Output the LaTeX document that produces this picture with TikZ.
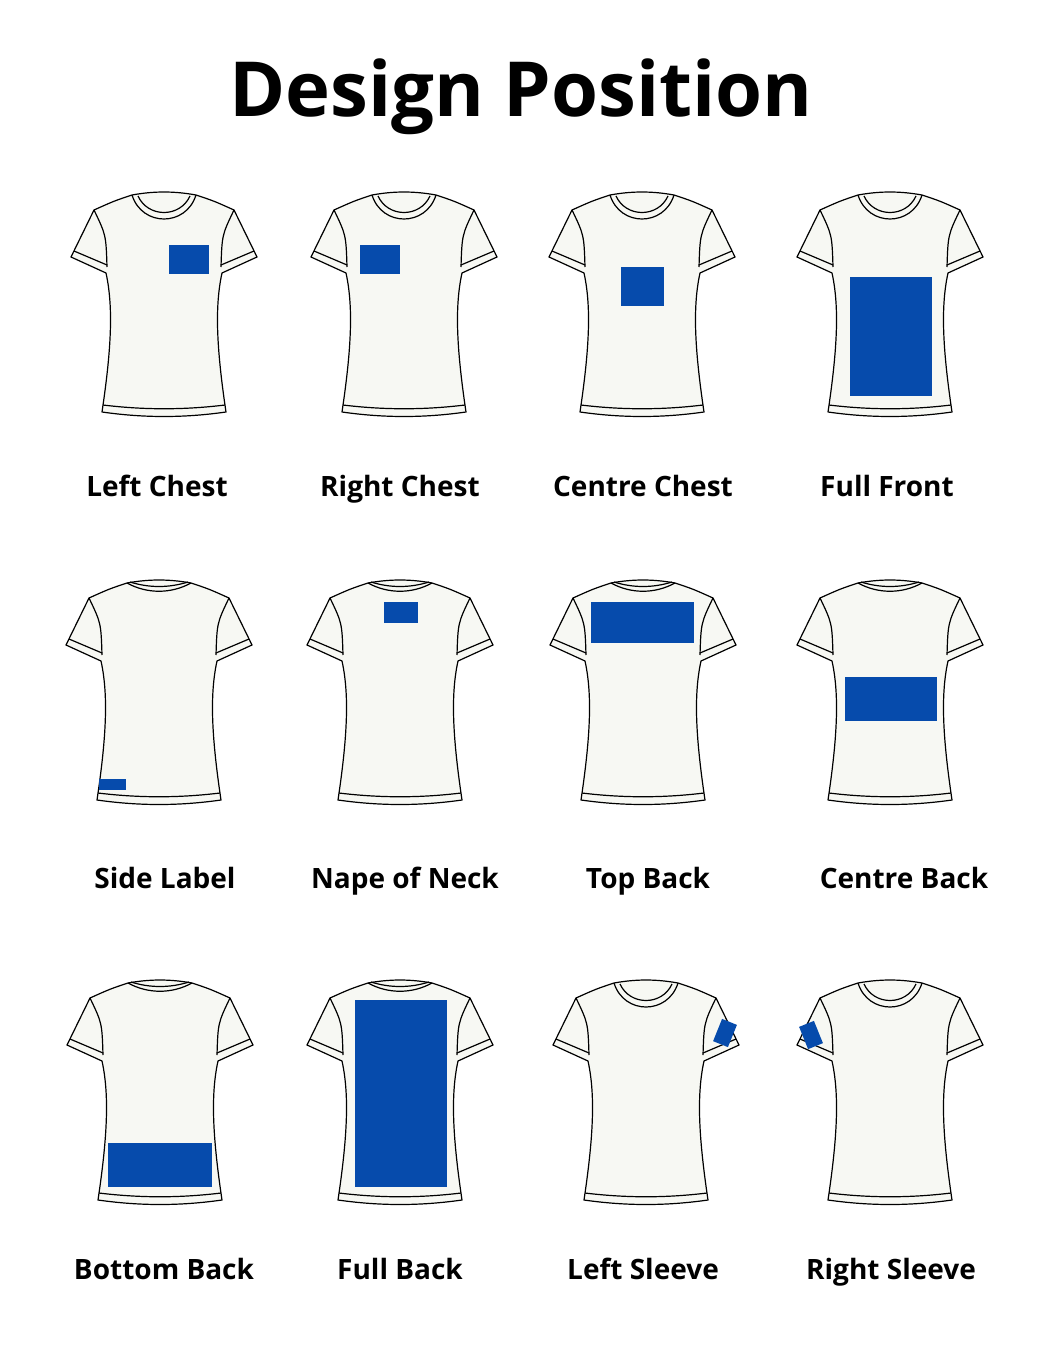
\documentclass[tikz,border=0pt]{standalone}
\usepackage{fontspec}
\setmainfont{Open Sans}
\definecolor{printblue}{HTML}{064BAC}
\definecolor{shirtwhite}{HTML}{F7F8F3}
\tikzset{
  shirtline/.style={draw=black, line width=1.2pt, line join=round},
  printarea/.style={fill=printblue, draw=none},
  poslabel/.style={anchor=base, font=\bfseries\fontsize{28}{32}\selectfont}
}
% one tee, centred at (#1,#2) on its collar; #3 = front or back
\newcommand{\tee}[3]{%
  \begin{scope}[shift={(#1,#2)}]
    \path[shirtline, fill=shirtwhite]
      (-32,0) .. controls (-50,6) .. (-70,15) -- (-93,62) -- (-58,78)
      .. controls (-51,110) and (-52,150) .. (-62,217)
      .. controls (-20,223) and (20,223) .. (62,217)
      .. controls (52,150) and (51,110) .. (58,78)
      -- (93,62) -- (70,15) .. controls (50,6) .. (32,0)
      .. controls (10,-4) and (-10,-4) .. (-32,0) -- cycle;
    \draw[shirtline] (-70,15) .. controls (-58,40) .. (-57,72);
    \draw[shirtline] (70,15) .. controls (58,40) .. (57,72);
    \draw[shirtline] (-90,56) -- (-57,70);
    \draw[shirtline] (90,56) -- (57,70);
    \draw[shirtline] (-61,210) .. controls (-20,215) and (20,215) .. (61,210);
    \ifx#3f
      \draw[shirtline] (-32,0) .. controls (-22,32) and (22,32) .. (32,0);
      \draw[shirtline] (-26,1) .. controls (-16,23) and (16,23) .. (26,1);
    \else
      \draw[shirtline] (-32,0) .. controls (-12,11) and (12,11) .. (32,0);
      \draw[shirtline] (-29,-1) .. controls (-10,5) and (10,5) .. (29,-1);
    \fi
  \end{scope}}
\begin{document}
\begin{tikzpicture}[x=1pt, y=-1pt]
  \useasboundingbox[fill=white] (0,0) rectangle (1057,1370);
  \node[anchor=base] (title) at (521,117) {\bfseries\fontsize{76}{86}\selectfont Design Position};

  % row one
  \tee{164}{195}{f} \tee{404}{195}{f} \tee{642}{195}{f} \tee{890}{195}{f}
  \path[printarea] (169,245) rectangle (209,274);
  \path[printarea] (360,245) rectangle (400,274);
  \path[printarea] (621,267) rectangle (664,306);
  \path[printarea] (850,277) rectangle (932,396);
  \node[poslabel] (leftChest)   at (157,496) {Left Chest};
  \node[poslabel] (rightChest)  at (400,496) {Right Chest};
  \node[poslabel] (centreChest) at (643,496) {Centre Chest};
  \node[poslabel] (fullFront)   at (887,496) {Full Front};

  % row two
  \tee{159}{583}{b} \tee{400}{583}{b} \tee{643}{583}{b} \tee{890}{583}{b}
  \path[printarea] (99,779) rectangle (126,790);
  \path[printarea] (384,602) rectangle (418,623);
  \path[printarea] (591,602) rectangle (694,643);
  \path[printarea] (845,677) rectangle (937,721);
  \node[poslabel] (sideLabel)  at (165,888) {Side Label};
  \node[poslabel] (napeNeck)   at (405,888) {Nape of Neck};
  \node[poslabel] (topBack)    at (648,888) {Top Back};
  \node[poslabel] (centreBack) at (904,888) {Centre Back};

  % row three
  \tee{160}{983}{b} \tee{400}{983}{b} \tee{646}{983}{f} \tee{890}{983}{f}
  \path[printarea] (108,1143) rectangle (212,1187);
  \path[printarea] (355,1000) rectangle (447,1187);
  \path[printarea, rotate around={-22:(725,1033)}] (717,1021) rectangle (733,1045);
  \path[printarea, rotate around={22:(811,1035)}] (803,1023) rectangle (819,1047);
  \node[poslabel] (bottomBack)  at (164,1279) {Bottom Back};
  \node[poslabel] (fullBack)    at (400,1279) {Full Back};
  \node[poslabel] (leftSleeve)  at (643,1279) {Left Sleeve};
  \node[poslabel] (rightSleeve) at (891,1279) {Right Sleeve};
\end{tikzpicture}
\end{document}
